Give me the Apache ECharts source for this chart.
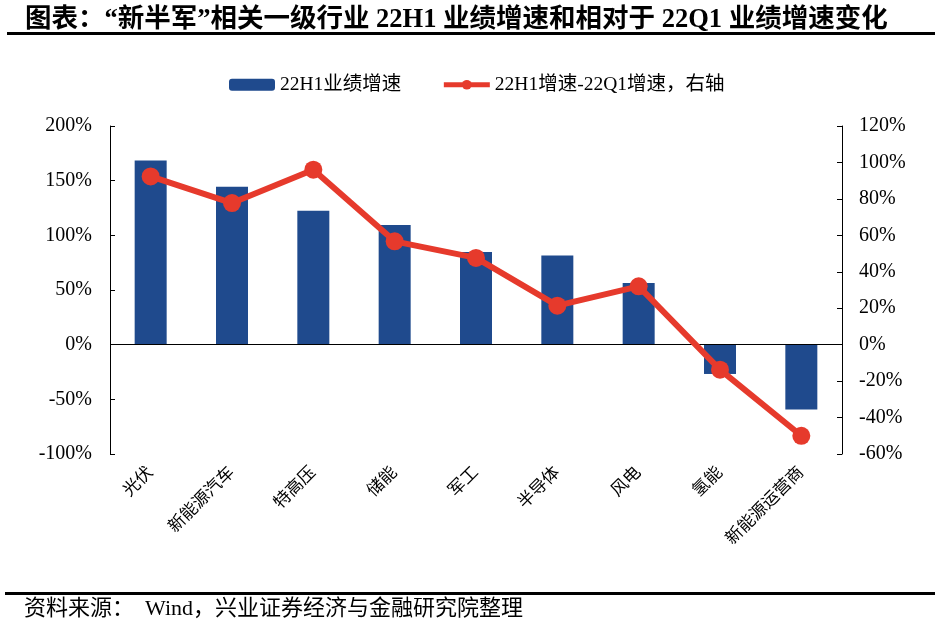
<!DOCTYPE html>
<html><head><meta charset="utf-8">
<script src="https://cdn.jsdelivr.net/npm/echarts@6/dist/echarts.min.js"></script>
<style>html,body{margin:0;padding:0;background:#fff}#c{width:935px;height:631px}</style>
</head><body><div id="c"></div>
<script>
var categories = ['光伏','新能源汽车','特高压','储能','军工','半导体','风电','氢能','新能源运营商'];
var h1Growth = [168.5, 144.4, 122.5, 109.4, 84.7, 81.6, 56.4, -26.8, -59.4];
var diffGrowth = [92.3, 77.7, 96.0, 56.7, 47.6, 21.4, 32.0, -13.7, -50.0];
var leftTicks = [-100, 200, 50];
var rightTicks = [-60, 120, 20];

var FONT = '"Times New Roman","Liberation Serif","Noto Sans CJK SC",serif';
var chart = echarts.init(document.getElementById('c'));
chart.setOption({
  animation: false,
  backgroundColor: '#fff',
  textStyle: {fontFamily: FONT, color: '#000'},
  title: {
    text: '图表：“新半军”相关一级行业 22H1 业绩增速和相对于 22Q1 业绩增速变化',
    left: 20, top: 2,
    textStyle: {fontFamily: FONT, fontSize: 26.5, fontWeight: 'bold', color: '#000'}
  },
  graphic: [
    {type: 'rect', shape: {x: 7, y: 32, width: 928, height: 3}, style: {fill: '#000'}},
    {type: 'rect', shape: {x: 5, y: 592, width: 930, height: 3}, style: {fill: '#000'}},
    {type: 'text', left: 24, top: 598, style: {text: '资料来源：  Wind，兴业证券经济与金融研究院整理', font: '22px ' + FONT, fill: '#000'}}
  ],
  legend: {
    left: 224, top: 70,
    itemWidth: 46, itemHeight: 12, itemGap: 40,
    textStyle: {fontFamily: FONT, fontSize: 19.5, color: '#000'},
    data: [
      {name: '22H1业绩增速'},
      {name: '22H1增速-22Q1增速，右轴', lineStyle: {width: 5}}
    ]
  },
  grid: {left: 110, right: 93, top: 126, bottom: 177, containLabel: false},
  xAxis: {
    type: 'category', data: categories,
    axisLine: {show: false, onZero: false},
    axisTick: {show: false},
    axisLabel: {rotate: 45, fontSize: 17, color: '#000', margin: 16, interval: 0, fontFamily: FONT}
  },
  yAxis: [
    {type: 'value', min: leftTicks[0], max: leftTicks[1], interval: leftTicks[2],
     axisLine: {show: true, lineStyle: {color: '#000', width: 1}},
     axisTick: {show: true, inside: true, length: 5, lineStyle: {color: '#000'}},
     splitLine: {show: false},
     axisLabel: {formatter: '{value}%', fontSize: 20, color: '#000', margin: 18, fontFamily: FONT}},
    {type: 'value', min: rightTicks[0], max: rightTicks[1], interval: rightTicks[2], position: 'right',
     axisLine: {show: true, lineStyle: {color: '#000', width: 1}},
     axisTick: {show: true, inside: true, length: 5, lineStyle: {color: '#000'}},
     splitLine: {show: false},
     axisLabel: {formatter: '{value}%', fontSize: 20, color: '#000', margin: 17, fontFamily: FONT}}
  ],
  series: [
    {name: '22H1业绩增速', type: 'bar', data: h1Growth, barWidth: 32, yAxisIndex: 0,
     itemStyle: {color: '#1F4A8D'},
     markLine: {silent: true, symbol: 'none', label: {show: false},
       lineStyle: {color: '#000', width: 1, type: 'solid'}, data: [{yAxis: 0}]}},
    {name: '22H1增速-22Q1增速，右轴', type: 'line', data: diffGrowth, yAxisIndex: 1,
     symbol: 'circle', symbolSize: 18, z: 5,
     lineStyle: {color: '#E63A2C', width: 6},
     itemStyle: {color: '#E63A2C'}}
  ]
});
</script></body></html>
